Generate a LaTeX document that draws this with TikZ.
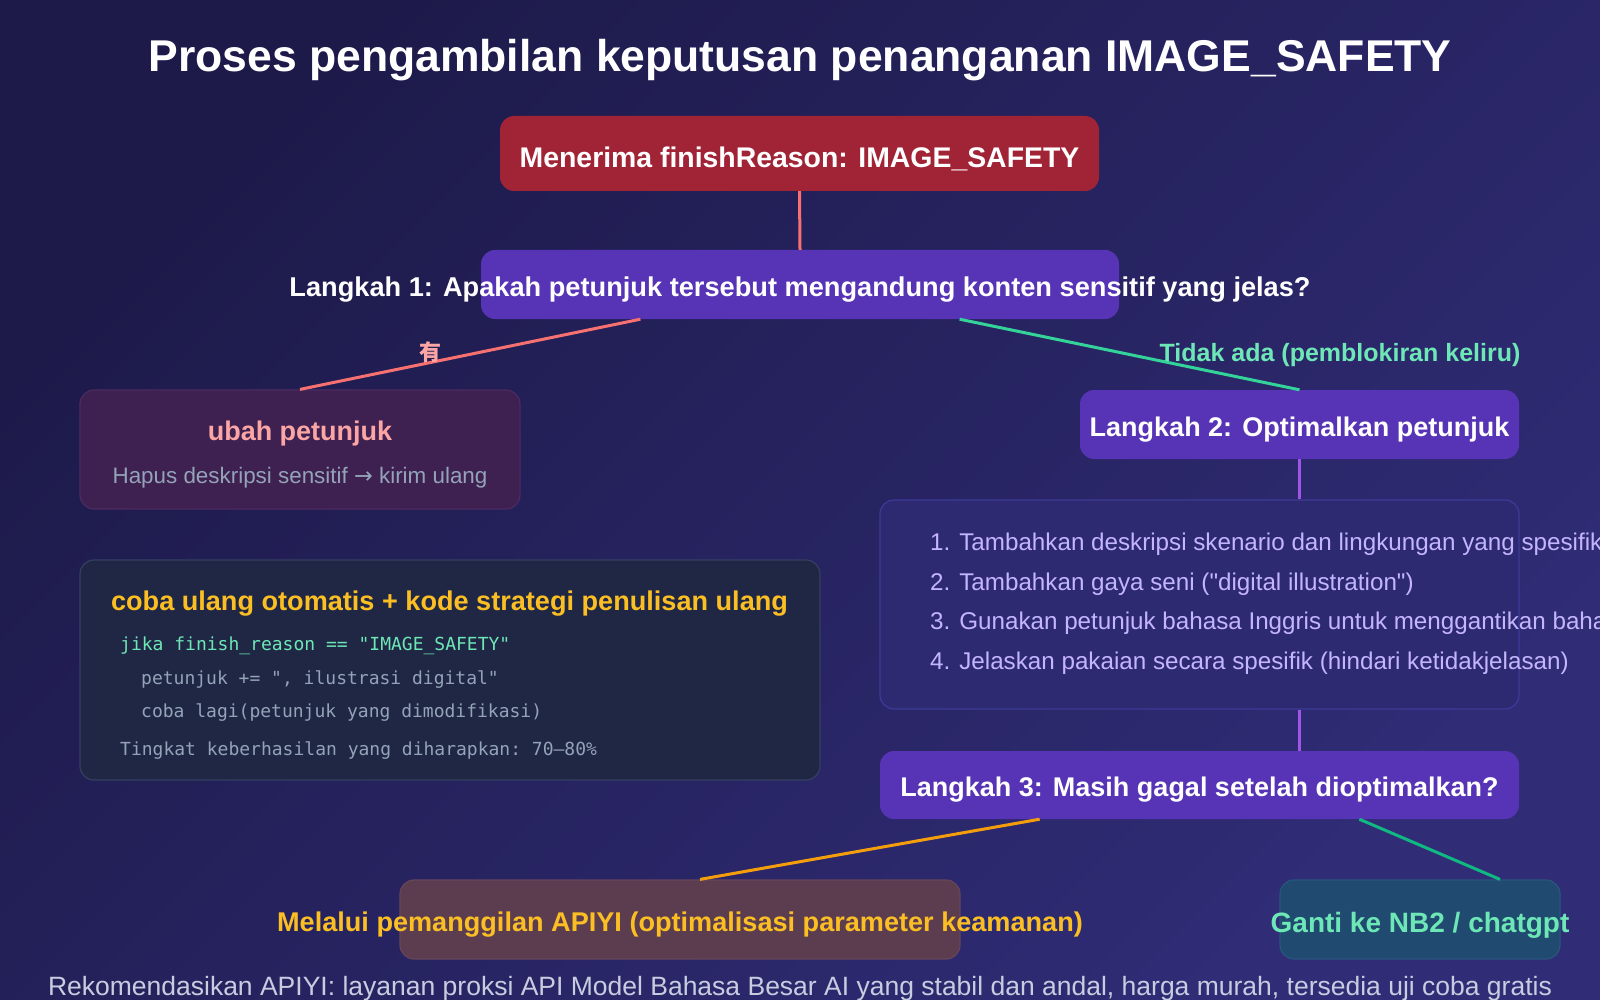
\documentclass[tikz,border=0pt]{standalone}
\usepackage{fontspec}
\setmainfont{Liberation Sans}
\setmonofont{DejaVu Sans Mono}
\newfontfamily\cjk{Noto Sans CJK SC}
\newfontfamily\arrowfont{DejaVu Sans}
\usetikzlibrary{calc}
\definecolor{bgA}{HTML}{1D1A4A}
\definecolor{bgB}{HTML}{302C76}
\definecolor{crimson}{HTML}{A12336}
\definecolor{violetbox}{HTML}{5733B6}
\definecolor{salmonline}{HTML}{F87171}
\definecolor{salmontext}{HTML}{FCA5A5}
\definecolor{greenline}{HTML}{34D399}
\definecolor{greenline2}{HTML}{10B981}
\definecolor{greentext}{HTML}{6EE7B7}
\definecolor{purpleline}{HTML}{A155E8}
\definecolor{lavender}{HTML}{C4B5FD}
\definecolor{greytext}{HTML}{94A3B8}
\definecolor{yellowtext}{HTML}{FBBF24}
\definecolor{orangeline}{HTML}{F59E0B}
\definecolor{footertext}{HTML}{C9CCE0}
\definecolor{ubahfill}{HTML}{3E2150}
\definecolor{ubahdraw}{HTML}{4C2B62}
\definecolor{codefill}{HTML}{1F2744}
\definecolor{codedraw}{HTML}{353F62}
\definecolor{listfill}{HTML}{2D2A72}
\definecolor{listdraw}{HTML}{3D3B98}
\definecolor{apifill}{HTML}{5C3D50}
\definecolor{apidraw}{HTML}{66455A}
\definecolor{gptfill}{HTML}{214A70}
\definecolor{gptdraw}{HTML}{28567E}
\tikzset{
  box/.style={rectangle, rounded corners=14pt, inner sep=0pt},
  conn/.style={line width=3pt},
  headtxt/.style={font=\bfseries\fontsize{27}{32}\selectfont, text=white, inner sep=0pt, yshift=-5pt},
  listtxt/.style={font=\fontsize{24.2}{28}\selectfont, text=lavender, anchor=west, inner sep=0pt},
  codetxt/.style={font=\ttfamily\fontsize{18}{22}\selectfont, anchor=base west, inner sep=0pt},
}
\begin{document}
\begin{tikzpicture}[x=1pt, y=-1pt]
\clip (0,0) rectangle (1600,1000);
\shade[top color=bgA, bottom color=bgB, shading angle=45] (0,0) rectangle (1600,1000);

% title
\node[font=\bfseries\fontsize{44.5}{52}\selectfont, text=white, inner sep=0pt] (title) at (800,60) {Proses pengambilan keputusan penanganan IMAGE\_SAFETY};

% boxes
\node[box, fill=crimson, minimum width=599pt, minimum height=75pt] (b1) at (799.5,153.5) {};
\node[headtxt, font=\bfseries\fontsize{28.4}{33}\selectfont] (b1t) at (b1.center) {Menerima finishReason: IMAGE\_SAFETY};

\node[box, fill=violetbox, minimum width=638pt, minimum height=69pt] (b2) at (800,284.5) {};
\node[headtxt, font=\bfseries\fontsize{27.2}{32}\selectfont] (b2t) at (b2.center) {Langkah 1: Apakah petunjuk tersebut mengandung konten sensitif yang jelas?};

\node[box, fill=ubahfill, draw=ubahdraw, line width=1.2pt, minimum width=440pt, minimum height=119pt] (ubah) at (300,449.5) {};
\node[headtxt, text=salmontext, yshift=2pt] (ubaht) at (300,431) {ubah petunjuk};
\node[font=\fontsize{22.4}{26}\selectfont, text=greytext, inner sep=0pt] (ubahs) at (300,478) {Hapus deskripsi sensitif {\arrowfont →} kirim ulang};

\node[box, fill=violetbox, minimum width=439pt, minimum height=69pt] (l2) at (1299.5,424.5) {};
\node[headtxt] (l2t) at (l2.center) {Langkah 2: Optimalkan petunjuk};

\node[box, fill=listfill, draw=listdraw, line width=1.2pt, minimum width=639pt, minimum height=209pt] (list) at (1199.5,604.5) {};
\node[listtxt] (li1) at (930,544) {1. Tambahkan deskripsi skenario dan lingkungan yang spesifik};
\node[listtxt] (li2) at (930,584) {2. Tambahkan gaya seni (\textquotedbl digital illustration\textquotedbl)};
\node[listtxt] (li3) at (930,623) {3. Gunakan petunjuk bahasa Inggris untuk menggantikan bahasa Mandarin};
\node[listtxt] (li4) at (930,663) {4. Jelaskan pakaian secara spesifik (hindari ketidakjelasan)};

\node[box, fill=violetbox, minimum width=639pt, minimum height=68pt] (l3) at (1199.5,785) {};
\node[headtxt] (l3t) at (l3.center) {Langkah 3: Masih gagal setelah dioptimalkan?};

\node[box, fill=codefill, draw=codedraw, line width=1.2pt, minimum width=740pt, minimum height=220pt] (code) at (450,670) {};
\node[headtxt, font=\bfseries\fontsize{27.1}{31}\selectfont, text=yellowtext, yshift=2pt] (codet) at (449.5,601) {coba ulang otomatis + kode strategi penulisan ulang};
\node[codetxt, text=greentext] (c1) at (120,650) {jika finish\_reason == "IMAGE\_SAFETY"};
\node[codetxt, text=greytext] (c2) at (141,684) {petunjuk += ", ilustrasi digital"};
\node[codetxt, text=greytext] (c3) at (141,717) {coba lagi(petunjuk yang dimodifikasi)};
\node[codetxt, text=greytext] (c4) at (120,755) {Tingkat keberhasilan yang diharapkan: 70–80\%};

\node[box, fill=apifill, draw=apidraw, line width=1.2pt, minimum width=560pt, minimum height=79pt] (api) at (680,919.5) {};
\node[headtxt, font=\bfseries\fontsize{27.1}{31}\selectfont, text=yellowtext, yshift=1pt] (apit) at (680,921) {Melalui pemanggilan APIYI (optimalisasi parameter keamanan)};

\node[box, fill=gptfill, draw=gptdraw, line width=1.2pt, minimum width=280pt, minimum height=79pt] (gpt) at (1420,919.5) {};
\node[headtxt, font=\bfseries\fontsize{28}{32}\selectfont, text=greentext, yshift=1pt] (gptt) at (1420,921) {Ganti ke NB2 / chatgpt};

% connectors
\draw[conn, salmonline] (b1.south) -- (b2.north);
\draw[conn, salmonline] ($(b2.south west)!0.25!(b2.south east)$) -- (ubah.north);
\draw[conn, greenline] ($(b2.south west)!0.75!(b2.south east)$) -- (l2.north);
\draw[conn, purpleline] (l2.south) -- (l2.south |- list.north);
\draw[conn, purpleline] (list.south -| l2.south) -- (l3.north -| l2.south);
\coordinate (apiIn) at ($(api.north)+(20,0)$);
\coordinate (gptIn) at ($(gpt.north)+(80,0)$);
\draw[conn, orangeline] ($(l3.south west)!0.25!(l3.south east)$) -- (apiIn);
\draw[conn, greenline2] ($(l3.south west)!0.75!(l3.south east)$) -- (gptIn);

% labels
\node[font=\cjk\bfseries\fontsize{22}{26}\selectfont, text=salmontext, inner sep=0pt] (yes) at (430,352) {有};
\node[font=\bfseries\fontsize{25}{29}\selectfont, text=greentext, inner sep=0pt] (no) at (1340,355) {Tidak ada (pemblokiran keliru)};

% footer
\node[font=\fontsize{26.5}{30}\selectfont, text=footertext, inner sep=0pt] (foot) at (800,989) {Rekomendasikan APIYI: layanan proksi API Model Bahasa Besar AI yang stabil dan andal, harga murah, tersedia uji coba gratis};
\end{tikzpicture}
\end{document}
